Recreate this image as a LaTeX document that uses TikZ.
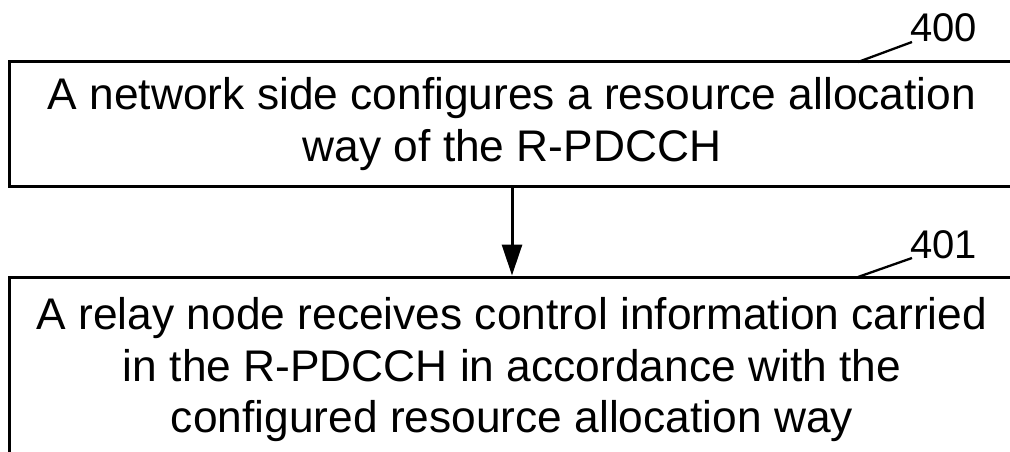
\documentclass[tikz,border=0pt]{standalone}
\usepackage{fontspec}
\setmainfont{Liberation Sans}
\usetikzlibrary{arrows.meta}
\begin{document}
\begin{tikzpicture}[x=1pt,y=1pt,
  stepbox/.style={draw=black, line width=3pt, align=center, inner sep=0pt,
    font=\fontsize{44.3}{51.5}\selectfont, text=black},
  reflabel/.style={inner sep=0pt, font=\fontsize{40}{48}\selectfont, anchor=base west},
  leader/.style={line width=2.3pt},
  flow/.style={line width=3pt, -{Triangle[length=31pt,width=20pt]}}]
\useasboundingbox (0,0) rectangle (1010,-452);
\node[stepbox, minimum width=1005pt, minimum height=124pt] (box1) at (512,-124)
  {A network side configures a resource allocation\\way of the R-PDCCH};
\node[stepbox, minimum width=1005pt, minimum height=186pt] (box2) at (512,-370)
  {A relay node receives control information carried\\in the R-PDCCH in accordance with the\\configured resource allocation way};
\draw[flow] (box1.south) -- (box2.north);
\node[reflabel] (n400) at (910,-42) {400};
\coordinate (c400) at (858,-62);
\draw[leader] (c400) -- ([xshift=2pt]n400.base west);
\node[reflabel] (n401) at (910,-258) {401};
\coordinate (c401) at (858,-277);
\draw[leader] (c401) -- ([xshift=2pt]n401.base west);
\end{tikzpicture}
\end{document}
